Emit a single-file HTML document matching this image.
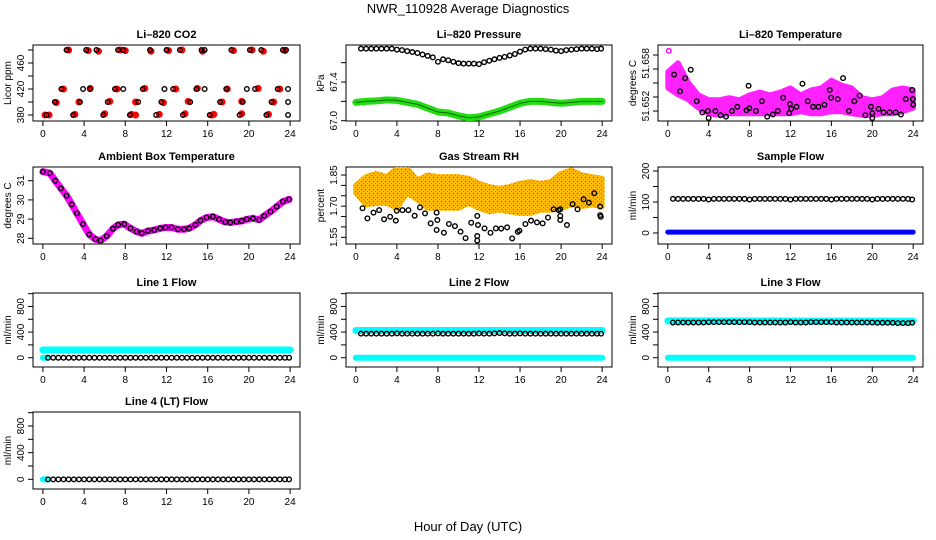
<!DOCTYPE html>
<html><head><meta charset="utf-8">
<style>
html,body{margin:0;padding:0;background:#fff;}
svg{display:block;font-family:"Liberation Sans",Arial,sans-serif;}
</style></head>
<body>
<svg id="chart" width="936" height="540" viewBox="0 0 936 540">
<defs>
<pattern id="rhpat" width="4" height="4" patternUnits="userSpaceOnUse">
<rect width="4" height="4" fill="#ffb800"/><rect x="1" y="1" width="1" height="1" fill="#ff3300"/><rect x="3" y="3" width="1" height="1" fill="#ff6600"/>
</pattern>
</defs>
<text x="468" y="13" text-anchor="middle" font-size="13">NWR_110928  Average Diagnostics</text>
<text x="468" y="531" text-anchor="middle" font-size="13">Hour of Day (UTC)</text>
</svg>
<script>
const xTicks = [0,4,8,12,16,20,24];
const halfHours = [0.5,1,1.5,2,2.5,3,3.5,4,4.5,5,5.5,6,6.5,7,7.5,8,8.5,9,9.5,10,10.5,11,11.5,12,12.5,13,13.5,14,14.5,15,15.5,16,16.5,17,17.5,18,18.5,19,19.5,20,20.5,21,21.5,22,22.5,23,23.5,23.9];
const bandHours = [0,1,2,3,4,5,6,7,8,9,10,11,12,13,14,15,16,17,18,19,20,21,22,23,24];

// CO2
const co2BlackHours = [0.36,2.94,5.86,8.45,11.0,13.6,16.2,19.1,21.7,23.8, 1.17,3.6,6.3,9.25,11.5,14.3,17.2,19.4,22.2,23.8, 1.8,3.9,4.56,7.0,7.8,9.7,11.8,12.65,14.9,15.7,17.8,19.8,20.6,22.8,23.8, 2.3,4.2,5.2,7.3,7.8,10.4,12.0,13.3,15.4,15.7,18.3,20.1,21.2,23.3,23.6];
const co2BlackVals = [380,380,380,380,380,380,380,380,380,380, 400,400,400,400,400,400,400,400,400,400, 420,420,420,420,420,420,420,420,420,420,420,420,420,420,420, 480,480,480,480,480,480,480,480,480,480,480,480,480,480,480];
const co2RedHours = [0.2,0.6,3.1,6.0,8.6,9.0,11.3,13.8,16.4,16.6,19.3,21.9, 1.3,3.5,6.5,9.0,11.7,14.1,17.4,19.3,22.4, 2.0,4.6,7.2,9.9,12.9,15.0,17.9,20.9,23.0, 2.5,4.4,5.4,7.5,8.0,10.5,12.2,13.5,15.5,18.5,20.3,21.4,23.5];
const co2RedVals = [380,380,381,382,381,380,381,382,380,381,382,381, 399,400,401,400,399,401,400,401,400, 420,421,420,421,420,421,420,421,420, 480,479,478,480,479,478,479,480,478,479,480,478,479];

// Pressure
const presBlackVals = [67.745,67.745,67.745,67.745,67.745,67.745,67.745,67.735,67.73,67.72,67.71,67.70,67.685,67.67,67.655,67.61,67.635,67.625,67.61,67.595,67.59,67.59,67.59,67.585,67.605,67.62,67.635,67.65,67.66,67.675,67.69,67.715,67.735,67.745,67.745,67.745,67.74,67.735,67.725,67.72,67.73,67.735,67.74,67.745,67.745,67.745,67.74,67.745];
const presGreenVals = [67.19,67.20,67.205,67.215,67.21,67.19,67.17,67.13,67.09,67.08,67.05,67.03,67.04,67.07,67.10,67.14,67.18,67.20,67.20,67.19,67.18,67.19,67.20,67.20,67.20];

// Li-820 temperature
const tempUpper = [51.6576,51.6589,51.6561,51.6543,51.6536,51.6536,51.6539,51.6536,51.6543,51.6547,51.6543,51.6547,51.6553,51.6543,51.6550,51.6553,51.6564,51.6557,51.6553,51.6539,51.6536,51.6539,51.6550,51.6553,51.6550];
const tempLower = [51.6553,51.6543,51.6536,51.6524,51.6516,51.6514,51.6516,51.6516,51.6516,51.6516,51.6516,51.6516,51.6516,51.6519,51.6516,51.6516,51.6519,51.6519,51.6516,51.6514,51.6514,51.6516,51.6516,51.6519,51.6524];
const tempBlackHours = [0.62,1.69,1.2,2.24,2.83,3.38,3.93,3.99,4.65,5.17,5.69,6.28,6.8,7.7,7.97,7.9,8.62,9.2,9.72,10.28,10.76,11.28,11.94,11.87,12.07,12.59,13.17,13.69,14.21,14.73,15.32,15.84,15.97,16.62,17.14,17.72,18.24,18.76,19.32,19.87,20.0,20.0,20.62,21.1,21.69,22.28,22.8,23.28,23.9,23.97,24.0];
const tempBlackVals = [51.6572,51.6567,51.6548,51.6579,51.6534,51.6518,51.6520,51.6510,51.6520,51.6514,51.6512,51.6520,51.6526,51.6521,51.6524,51.6556,51.6520,51.6534,51.6512,51.6515,51.6520,51.6539,51.6530,51.6517,51.6523,51.6526,51.6559,51.6534,51.6526,51.6526,51.6529,51.6550,51.6539,51.6537,51.6567,51.6520,51.6534,51.6542,51.6514,51.6526,51.6517,51.6510,51.6523,51.6518,51.6518,51.6518,51.6515,51.6537,51.6550,51.6537,51.6529];

// Ambient box temperature
const ambHours = [0,0.68,1.2,1.75,2.3,2.8,3.3,3.9,4.5,5.1,5.6,6.2,6.8,7.3,7.9,8.5,9.1,9.6,10.2,10.8,11.4,11.9,12.5,13.1,13.7,14.2,14.8,15.3,15.9,16.5,17.1,17.7,18.2,18.8,19.3,19.8,20.4,21.0,21.5,22.1,22.7,23.3,23.9];
const ambVals = [31.47,31.39,31.0,30.6,30.22,29.77,29.3,28.74,28.2,27.95,27.88,28.12,28.5,28.7,28.74,28.52,28.35,28.26,28.38,28.43,28.52,28.56,28.56,28.47,28.47,28.52,28.7,28.92,29.08,29.13,28.99,28.85,28.82,28.87,28.9,28.99,29.04,28.96,29.17,29.39,29.65,29.91,30.03];

// Gas stream RH
const rhUpper = [1.80,1.842,1.858,1.842,1.882,1.882,1.826,1.85,1.842,1.842,1.842,1.834,1.81,1.794,1.786,1.794,1.81,1.818,1.81,1.818,1.858,1.874,1.85,1.842,1.834];
const rhLower = [1.762,1.706,1.714,1.714,1.69,1.762,1.73,1.69,1.69,1.69,1.69,1.714,1.69,1.673,1.681,1.673,1.665,1.665,1.681,1.681,1.69,1.706,1.698,1.706,1.698];
const rhBlackHours = [0.65,1.13,1.72,2.27,2.75,3.34,3.89,3.98,4.54,5.12,5.73,6.25,6.74,7.29,7.87,7.87,7.94,8.58,9.07,9.65,10.2,10.69,11.24,11.83,11.9,11.83,11.83,12.54,13.12,13.64,14.16,14.74,15.23,15.78,15.94,16.52,17.07,17.65,18.2,18.72,19.27,19.76,19.92,19.92,19.92,20.57,21.12,21.6,22.19,22.71,23.23,23.81,23.81,23.87];
const rhBlackVals = [1.69,1.641,1.669,1.681,1.637,1.649,1.63,1.678,1.681,1.681,1.654,1.694,1.665,1.617,1.669,1.585,1.633,1.572,1.614,1.604,1.577,1.546,1.62,1.653,1.609,1.556,1.534,1.593,1.572,1.593,1.592,1.598,1.545,1.576,1.582,1.614,1.63,1.622,1.617,1.645,1.685,1.681,1.685,1.653,1.633,1.609,1.71,1.685,1.733,1.717,1.762,1.698,1.657,1.649];

// Flows
const sampleBlackVals = [110,110,110,110,110,110,110,108,110,110,110,110,110,110,110,108,110,110,110,110,110,110,110,108,110,110,110,110,110,110,110,108,110,110,110,110,110,110,110,108,110,110,110,110,110,110,110,108];
const sampleBlueHours = [0,24];
const sampleBlueVals = [3,3];
const line1BlackVals = [0,0,0,0,0,0,0,0,0,0,0,0,0,0,0,0,0,0,0,0,0,0,0,0,0,0,0,0,0,0,0,0,0,0,0,0,0,0,0,0,0,0,0,0,0,0,0,0];
const line1CyanHours = [0,24];
const line1CyanVals = [120,120];
const line1CyanLowHours = [0,0.4];
const line1CyanLowVals = [0,0];
const line2BlackVals = [375,375,375,375,375,375,375,380,375,375,375,375,375,375,375,380,375,375,375,375,375,375,375,380,375,375,380,385,380,375,375,380,375,375,375,375,375,375,375,375,375,375,375,375,375,375,375,375];
const line2CyanHours = [0,24];
const line2CyanVals = [425,425];
const line2CyanLowHours = [0,24];
const line2CyanLowVals = [0,0];
const line3BlackVals = [550,550,550,550,550,550,550,555,555,555,555,555,555,555,555,555,550,550,550,550,550,550,550,555,550,550,550,555,555,555,555,555,550,550,550,550,550,550,550,550,545,545,545,545,540,540,540,545];
const line3CyanHours = [0,24];
const line3CyanVals = [575,570];
const line3CyanLowHours = [0,24];
const line3CyanLowVals = [0,0];
const line4BlackVals = [0,0,0,0,0,0,0,0,0,0,0,0,0,0,0,0,0,0,0,0,0,0,0,0,0,0,0,0,0,0,0,0,0,0,0,0,0,0,0,0,0,0,0,0,0,0,0,0];
const line4CyanHours = [0,0.4];
const line4CyanVals = [0,0];

const NS = "http://www.w3.org/2000/svg";
const svg = document.getElementById('chart');
function mk(tag, attrs, parent) {
  const e = document.createElementNS(NS, tag);
  for (const k in attrs) e.setAttribute(k, attrs[k]);
  parent.appendChild(e);
  return e;
}
const cols = [[33,300],[346,612],[658,923]];
const rows = [[45,121],[167,244],[293,367],[412,489]];

function panel(name, title, c, r, ylo, yhi, yticks, ylabs, ytitle) {
  const fx0 = cols[c][0], fx1 = cols[c][1], fy0 = rows[r][0], fy1 = rows[r][1];
  const g = mk('g', {}, svg);
  
  
  const sx = h => fx0 + (h + 0.96) / 25.92 * (fx1 - fx0);
  const sy = v => fy1 - (v - ylo) / (yhi - ylo) * (fy1 - fy0);
  const t = mk('text', {x: (fx0 + fx1) / 2, y: fy0 - 7, 'text-anchor': 'middle', 'font-size': 11, 'font-weight': 'bold'}, g);
  t.textContent = title;
  
  
  const fr = mk('rect', {x: fx0, y: fy0, width: fx1 - fx0, height: fy1 - fy0, fill: 'none', stroke: '#000', 'stroke-width': 1}, g);
  
  
  const xa = mk('g', {}, g);
  
  
  xTicks.forEach(h => {
    mk('line', {x1: sx(h), x2: sx(h), y1: fy1, y2: fy1 + 5, stroke: '#000'}, xa);
    const tl = mk('text', {x: sx(h), y: fy1 + 16, 'text-anchor': 'middle', 'font-size': 10}, xa);
    tl.textContent = h;
    
    
  });
  const ya = mk('g', {}, g);
  
  
  yticks.forEach(v => mk('line', {x1: fx0 - 5, x2: fx0, y1: sy(v), y2: sy(v), stroke: '#000'}, ya));
  ylabs.forEach(l => {
    const tx = fx0 - 9, ty = sy(l[0]);
    const tl = mk('text', {x: tx, y: ty, 'text-anchor': 'middle', 'font-size': 10, transform: `rotate(-90 ${tx} ${ty})`}, ya);
    tl.textContent = l[1];
    
    
  });
  const ax = fx0 - 22, ay = (fy0 + fy1) / 2;
  const yt = mk('text', {x: ax, y: ay, 'text-anchor': 'middle', 'font-size': 10, transform: `rotate(-90 ${ax} ${ay})`}, g);
  yt.textContent = ytitle;
  
  
  const clip = 'clip' + name;
  const cp = mk('clipPath', {id: clip}, g);
  mk('rect', {x: fx0, y: fy0, width: fx1 - fx0, height: fy1 - fy0}, cp);
  const pg = mk('g', {'clip-path': `url(#${clip})`}, g);
  return {sx, sy, g: pg};
}
function circles(P, hs, vs, name, stroke, fill, r) {
  const g = mk('g', {}, P.g);
  
  
  for (let i = 0; i < hs.length; i++) {
    const c = mk('circle', {cx: P.sx(hs[i]), cy: P.sy(vs[i]), r: r || 2.3, fill: fill || 'none', stroke: stroke, 'stroke-width': 1.4}, g);
    
    
  }
}
function band(P, hs, vs, name, color, w) {
  const pts = hs.map((h, i) => P.sx(h) + ',' + P.sy(vs[i])).join(' ');
  const pl = mk('polyline', {points: pts, fill: 'none', stroke: color, 'stroke-width': w, 'stroke-linecap': 'round', 'stroke-linejoin': 'round'}, P.g);
  
  
}
function area(P, hs, up, lo, name, fill) {
  let pts = hs.map((h, i) => P.sx(h) + ',' + P.sy(up[i]));
  for (let i = hs.length - 1; i >= 0; i--) pts.push(P.sx(hs[i]) + ',' + P.sy(lo[i]));
  const pg = mk('polygon', {points: pts.join(' '), fill: fill, stroke: fill, 'stroke-width': 5, 'stroke-linejoin': 'round'}, P.g);
  
  
}
const flowTicks = [0,200,400,600,800,1000];
const flowLabs = [[0,'0'],[400,'400'],[800,'800']];

// CO2
let P = panel('co2-panel', 'Li\u2013820 CO2', 0, 0, 370.8, 487.7, [380,400,420,440,460,480], [[380,'380'],[420,'420'],[460,'460']], 'Licor ppm');
circles(P, co2RedHours, co2RedVals, 'co2-red-series', '#ff0000', '#ff0000', 2.8);
circles(P, co2BlackHours, co2BlackVals, 'co2-black-series', '#000');

// Pressure
P = panel('pressure-panel', 'Li\u2013820 Pressure', 1, 0, 66.997, 67.783, [67.0,67.2,67.4,67.6], [[67.0,'67.0'],[67.4,'67.4']], 'kPa');
band(P, bandHours, presGreenVals, 'pressure-green-series', '#22dd11', 7);
band(P, bandHours, presGreenVals, 'pressure-green-dots', '#116600', 1);
circles(P, halfHours, presBlackVals, 'pressure-black-series', '#000');

// Temperature
P = panel('temperature-panel', 'Li\u2013820 Temperature', 2, 0, 51.65057, 51.66143, [51.652,51.654,51.656,51.658,51.660], [[51.6527,'51.652'],[51.6588,'51.658']], 'degrees C');
area(P, bandHours, tempUpper, tempLower, 'temperature-magenta-series', '#ff22ff');
circles(P, [0.1], [51.6606], 'temperature-outlier', '#ff00ff');
circles(P, tempBlackHours, tempBlackVals, 'temperature-black-series', '#000');

// Ambient
P = panel('ambient-panel', 'Ambient Box Temperature', 0, 1, 27.703, 31.714, [28,29,30,31], [[28,'28'],[29,'29'],[30,'30'],[31,'31']], 'degrees C');
band(P, ambHours, ambVals, 'ambient-magenta-series', '#ff00ff', 7);
circles(P, ambHours, ambVals, 'ambient-black-series', '#000');

// RH
P = panel('rh-panel', 'Gas Stream RH', 1, 1, 1.5177, 1.8885, [1.55,1.60,1.65,1.70,1.75,1.80,1.85], [[1.55,'1.55'],[1.70,'1.70'],[1.85,'1.85']], 'percent');
area(P, bandHours, rhUpper, rhLower, 'rh-orange-series', 'url(#rhpat)');
circles(P, rhBlackHours, rhBlackVals, 'rh-black-series', '#000');

// Sample flow
P = panel('sample-flow-panel', 'Sample Flow', 2, 1, -35.5, 212.9, [0,50,100,150,200], [[0,'0'],[100,'100'],[200,'200']], 'ml/min');
band(P, sampleBlueHours, sampleBlueVals, 'sample-blue-series', '#0000ff', 5);
circles(P, halfHours, sampleBlackVals, 'sample-black-series', '#000');

// Line 1
P = panel('line1-panel', 'Line 1 Flow', 0, 2, -145, 1010, flowTicks, flowLabs, 'ml/min');
band(P, line1CyanHours, line1CyanVals, 'line1-cyan-series', '#00ffff', 7);
band(P, line1CyanLowHours, line1CyanLowVals, 'line1-cyan-low', '#00ffff', 6);
circles(P, halfHours, line1BlackVals, 'line1-black-series', '#000');

// Line 2
P = panel('line2-panel', 'Line 2 Flow', 1, 2, -145, 1010, flowTicks, flowLabs, 'ml/min');
band(P, line2CyanHours, line2CyanVals, 'line2-cyan-series', '#00ffff', 7);
band(P, line2CyanLowHours, line2CyanLowVals, 'line2-cyan-low', '#00ffff', 6);
circles(P, halfHours, line2BlackVals, 'line2-black-series', '#000');

// Line 3
P = panel('line3-panel', 'Line 3 Flow', 2, 2, -145, 1010, flowTicks, flowLabs, 'ml/min');
band(P, line3CyanHours, line3CyanVals, 'line3-cyan-series', '#00ffff', 7);
band(P, line3CyanLowHours, line3CyanLowVals, 'line3-cyan-low', '#00ffff', 6);
circles(P, halfHours, line3BlackVals, 'line3-black-series', '#000');

// Line 4
P = panel('line4-panel', 'Line 4 (LT) Flow', 0, 3, -145, 1010, flowTicks, flowLabs, 'ml/min');
band(P, line4CyanHours, line4CyanVals, 'line4-cyan-series', '#00ffff', 6);
circles(P, halfHours, line4BlackVals, 'line4-black-series', '#000');
</script>
</body></html>
